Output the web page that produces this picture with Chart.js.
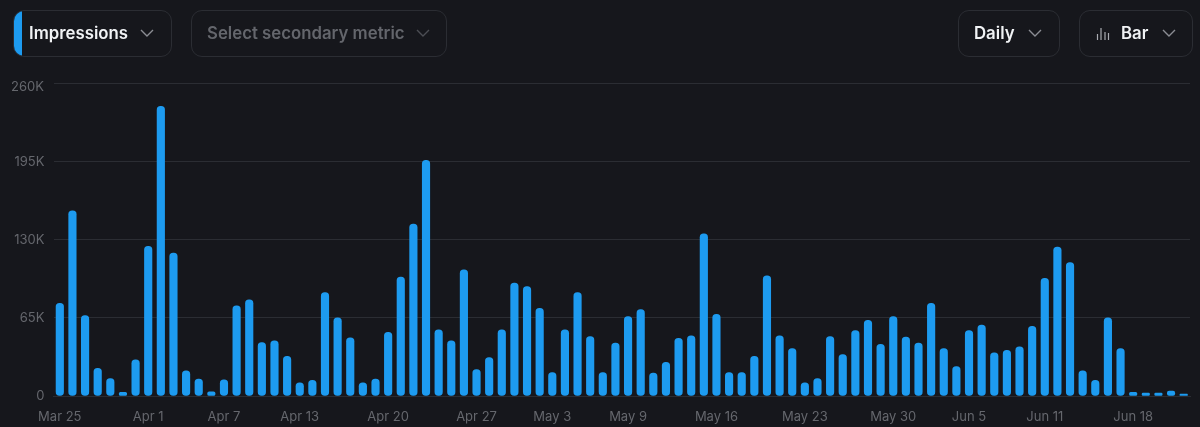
<!DOCTYPE html>
<html>
<head>
<meta charset="utf-8">
<title>Impressions</title>
<script src="https://cdn.jsdelivr.net/npm/chart.js@4/dist/chart.umd.min.js"></script>
<style>
    html, body { margin: 0; padding: 0; width: 1200px; height: 427px; overflow: hidden; background: #16171c; }
    body { font-family: Inter, "Noto Sans", sans-serif; position: relative; }
    #chartBox { position: absolute; left: 0; top: 0; width: 1200px; height: 427px; }
    .pill {
        position: absolute; top: 10px; height: 45px; box-sizing: content-box;
        border: 1px solid #2b2d33; border-radius: 11px; overflow: hidden;
        color: #f1f3f5; font-size: 16.8px; font-weight: 600; line-height: 45px;
    }
    .pill span { position: absolute; top: 0; white-space: nowrap; }
    .pill svg { position: absolute; }
    .strip { position: absolute; left: 0; top: 0; width: 8px; height: 100%; background: #1d9bf0; }
    .muted { color: #64666c; }
</style>
</head>
<body>
<div id="chartBox"><canvas id="impressionsChart"></canvas></div>

<div class="pill" style="left:13px;width:157px">
    <div class="strip"></div>
    <span style="left:15px">Impressions</span>
    <svg style="left:125px;top:17px" width="16" height="10"><path d="M2 2l6 6 6-6" fill="none" stroke="#8b8d93" stroke-width="1.4"/></svg>
</div>
<div class="pill muted" style="left:191px;width:254px">
    <span style="left:15px">Select secondary metric</span>
    <svg style="left:223px;top:17px" width="16" height="10"><path d="M2 2l6 6 6-6" fill="none" stroke="#4c4e54" stroke-width="1.4"/></svg>
</div>
<div class="pill" style="left:958px;width:100px">
    <span style="left:15px">Daily</span>
    <svg style="left:68px;top:17px" width="16" height="10"><path d="M2 2l6 6 6-6" fill="none" stroke="#8b8d93" stroke-width="1.4"/></svg>
</div>
<div class="pill" style="left:1079px;width:112px">
    <svg style="left:16px;top:16px" width="14" height="14"><path d="M1.5 7v6M5 1v12M9 5v8M12.5 6v7" fill="none" stroke="#a9abb0" stroke-width="1.2"/></svg>
    <span style="left:41px">Bar</span>
    <svg style="left:81px;top:17px" width="16" height="10"><path d="M2 2l6 6 6-6" fill="none" stroke="#8b8d93" stroke-width="1.4"/></svg>
</div>

<script>
// Daily impressions
const dates = [
    'Mar 25', 'Mar 26', 'Mar 27', 'Mar 28', 'Mar 29', 'Mar 30', 'Mar 31',
    'Apr 1', 'Apr 2', 'Apr 3', 'Apr 4', 'Apr 5', 'Apr 6', 'Apr 7', 'Apr 8', 'Apr 9', 'Apr 10', 'Apr 11', 'Apr 12',
    'Apr 13', 'Apr 14', 'Apr 15', 'Apr 16', 'Apr 17', 'Apr 18', 'Apr 19', 'Apr 20', 'Apr 21', 'Apr 22', 'Apr 23',
    'Apr 24', 'Apr 25', 'Apr 26', 'Apr 27', 'Apr 28', 'Apr 29', 'Apr 30',
    'May 1', 'May 2', 'May 3', 'May 4', 'May 5', 'May 6', 'May 7', 'May 8', 'May 9', 'May 10', 'May 11', 'May 12',
    'May 13', 'May 14', 'May 15', 'May 16', 'May 17', 'May 18', 'May 19', 'May 20', 'May 21', 'May 22', 'May 23',
    'May 24', 'May 25', 'May 26', 'May 27', 'May 28', 'May 29', 'May 30', 'May 31',
    'Jun 1', 'Jun 2', 'Jun 3', 'Jun 4', 'Jun 5', 'Jun 6', 'Jun 7', 'Jun 8', 'Jun 9', 'Jun 10', 'Jun 11', 'Jun 12',
    'Jun 13', 'Jun 14', 'Jun 15', 'Jun 16', 'Jun 17', 'Jun 18', 'Jun 19', 'Jun 20', 'Jun 21', 'Jun 22'
];
const impressions = [
    77000, 154000, 67000, 23000, 14500, 3000, 30000,
    124500, 241000, 119000, 21000, 14000, 3500, 13500, 75000, 80000, 44500, 46000, 33000,
    11000, 13000, 86000, 65000, 48500, 11000, 14000, 53000, 99000, 143000, 196000,
    55000, 46000, 105000, 22000, 32000, 55000, 94000,
    91000, 73000, 19500, 55000, 86000, 49500, 19500, 44000, 66000, 72000, 19000, 28000,
    48000, 50000, 135000, 68000, 19500, 19500, 33000, 100000, 50000, 39500, 11000,
    14500, 49500, 34500, 54500, 63000, 43000, 66000, 49000,
    44000, 77000, 39500, 24500, 54500, 59000, 36000, 38000, 41000, 58000, 98000, 124000,
    111000, 21000, 13000, 65000, 39500, 3000, 2500, 2500, 4000, 1500
];
const shownDates = ['Mar 25', 'Apr 1', 'Apr 7', 'Apr 13', 'Apr 20', 'Apr 27', 'May 3', 'May 9', 'May 16', 'May 23', 'May 30', 'Jun 5', 'Jun 11', 'Jun 18'];
const yTickStep = 65000;
const yMax = 260000;

const tickColor = '#65676d';
const tickFont = { family: 'Inter', size: 13 };

function formatY(value) {
    return value === 0 ? '0' : (value / 1000) + 'K';
}

// The top label sits a little below its grid line, so it is drawn here
const topLabelPlugin = {
    id: 'topLabel',
    afterDraw(chart) {
        const scale = chart.scales.y;
        const c = chart.ctx;
        c.save();
        c.fillStyle = tickColor;
        c.font = '13px Inter';
        c.textAlign = 'right';
        c.textBaseline = 'middle';
        c.fillText(formatY(yMax), 44, scale.getPixelForValue(yMax) + 4);
        c.restore();
    }
};

new Chart(document.getElementById('impressionsChart'), {
    type: 'bar',
    data: {
        labels: dates,
        datasets: [{
            label: 'Impressions',
            data: impressions,
            backgroundColor: '#1d9bf0',
            borderSkipped: false,
            borderRadius: 4,
            barThickness: 7.5
        }]
    },
    options: {
        responsive: true,
        maintainAspectRatio: false,
        animation: false,
        layout: { padding: { top: 83.5, right: 10 } },
        plugins: {
            legend: { display: false },
            tooltip: { enabled: false }
        },
        scales: {
            x: {
                grid: { display: false },
                border: { color: '#2b2d33' },
                afterFit(scale) { scale.height = 31; },
                ticks: {
                    autoSkip: false,
                    maxRotation: 0,
                    color: tickColor,
                    font: tickFont,
                    padding: 5,
                    callback(value) {
                        const label = this.getLabelForValue(value);
                        return shownDates.includes(label) ? label : '';
                    }
                }
            },
            y: {
                min: 0,
                max: yMax,
                border: { display: false },
                grid: { color: '#2b2d33', drawTicks: false },
                afterFit(scale) { scale.width = 53.5; },
                ticks: {
                    stepSize: yTickStep,
                    color: tickColor,
                    font: tickFont,
                    padding: 9,
                    callback(value) {
                        return value === yMax ? '' : formatY(value);
                    }
                }
            }
        }
    },
    plugins: [topLabelPlugin]
});
</script>
</body>
</html>
